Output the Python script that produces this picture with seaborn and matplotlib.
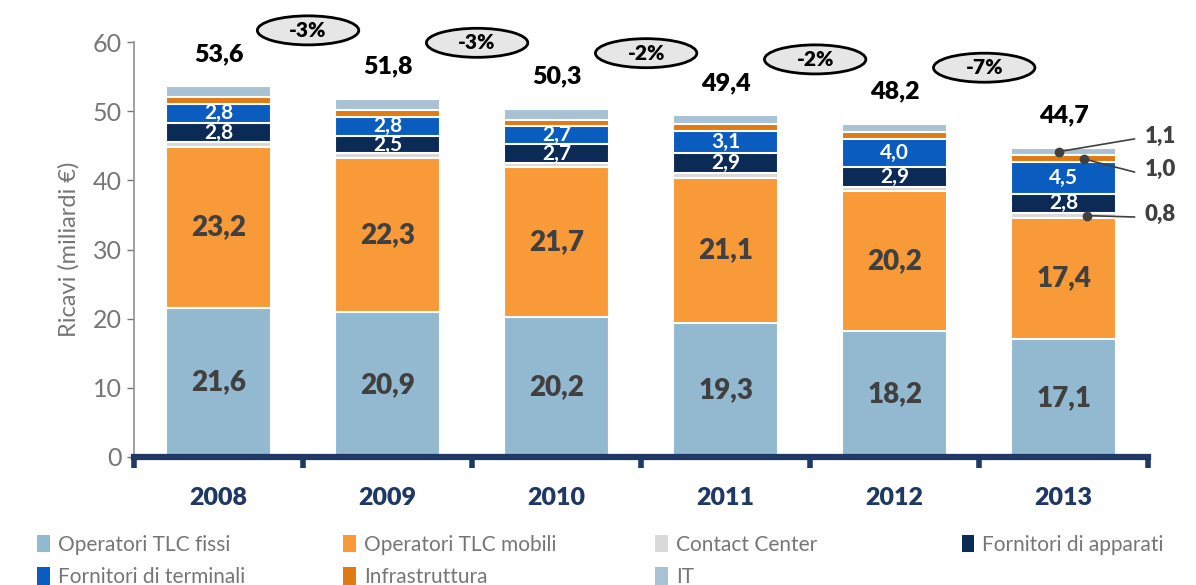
import numpy as np
import pandas as pd
import matplotlib
matplotlib.use('Agg')
import matplotlib.pyplot as plt
import seaborn as sns
from matplotlib.patches import Patch, Ellipse

years = ['2008', '2009', '2010', '2011', '2012', '2013']
tlc_fissi = [21.6, 20.9, 20.2, 19.3, 18.2, 17.1]
tlc_mobili = [23.2, 22.3, 21.7, 21.1, 20.2, 17.4]
contact_center = [0.7, 0.7, 0.6, 0.7, 0.7, 0.8]
forn_apparati = [2.8, 2.5, 2.7, 2.9, 2.9, 2.8]
forn_terminali = [2.8, 2.8, 2.7, 3.1, 4.0, 4.5]
infrastruttura = [1.0, 1.0, 0.9, 1.0, 1.0, 1.0]
it = [1.5, 1.6, 1.5, 1.3, 1.2, 1.1]
totali = [53.6, 51.8, 50.3, 49.4, 48.2, 44.7]

series_names = ['Operatori TLC fissi', 'Operatori TLC mobili', 'Contact Center',
                'Fornitori di apparati', 'Fornitori di terminali', 'Infrastruttura', 'IT']
series_vals = [tlc_fissi, tlc_mobili, contact_center, forn_apparati,
               forn_terminali, infrastruttura, it]
colors = ['#93b9d1', '#f99a38', '#d9d9d9', '#0b2a55', '#0a5cbf', '#e07a12', '#a9c2d3']

NAVY = '#1f3864'
GREY = '#767676'
DARK = '#404040'
FONT = ['Lato', 'DejaVu Sans']

sns.set_style('white')
plt.rcParams['font.family'] = FONT

fig = plt.figure(figsize=(11.96, 5.85), dpi=100)
ax = fig.add_axes([0.112, 0.219, 0.848, 0.709])

df = pd.DataFrame(dict(zip(series_names, series_vals)), index=years)
cum = df.cumsum(axis=1)

# stacked bars: draw cumulative totals top-down so lower layers cover upper ones
for name, col in reversed(list(zip(series_names, colors))):
    sns.barplot(x=years, y=cum[name].values, color=col, width=0.62,
                edgecolor='white', linewidth=1.5, ax=ax, saturation=1)

# segment labels
for i, yr in enumerate(years):
    base = 0
    for name, vals in zip(series_names, series_vals):
        v = vals[i]
        mid = base + v / 2
        label = f'{v:.1f}'.replace('.', ',')
        if name in ('Operatori TLC fissi', 'Operatori TLC mobili'):
            ax.text(i, mid, label, ha='center', va='center', fontsize=20,
                    fontweight='heavy', color=DARK)
        elif name in ('Fornitori di apparati', 'Fornitori di terminali'):
            ax.text(i, mid, label, ha='center', va='center', fontsize=15,
                    fontweight='bold', color='white')
        base += v
    ax.text(i, totali[i] + 4.7, f'{totali[i]:.1f}'.replace('.', ','), ha='center',
            va='center', fontsize=18, fontweight='heavy', color='black', clip_on=False)

# growth ovals between bars
for i in range(len(years) - 1):
    pct = round((totali[i + 1] / totali[i] - 1) * 100)
    yc = totali[i] + 8.1
    ax.add_patch(Ellipse((i + 0.53, yc), 0.6, 4.2, facecolor='#e6e6e6',
                         edgecolor='black', linewidth=2, clip_on=False))
    ax.text(i + 0.53, yc, f'{pct}%', ha='center', va='center', fontsize=15,
            fontweight='heavy', color='black', clip_on=False)

# callouts for small 2013 segments
last = len(years) - 1
c13 = cum.iloc[last]
callouts = [
    ('IT', c13['IT'] - it[last] / 2, -0.03, 46.0),
    ('Infrastruttura', c13['Infrastruttura'] - infrastruttura[last] / 2, 0.12, 41.2),
    ('Contact Center', c13['Contact Center'] - contact_center[last] / 2, 0.14, 34.7),
]
for name, yv, dx, ylab in callouts:
    v = df.loc[years[last], name]
    ax.plot([last + dx], [yv], 'o', color=DARK, markersize=6, clip_on=False)
    ax.plot([last + dx, last + 0.42], [yv, ylab], color=DARK, lw=1.2, clip_on=False)
    ax.text(last + 0.48, ylab + 0.4, f'{v:.1f}'.replace('.', ','), ha='left', va='center',
            fontsize=16, fontweight='heavy', color=DARK, clip_on=False)

ax.set_ylim(0, 60)
ax.set_xlim(-0.5, 5.5)
ax.set_yticks(range(0, 61, 10))
ax.tick_params(axis='y', labelsize=18, colors=GREY, length=5, width=1, direction='out', left=True)
ax.set_xticks(range(len(years)))
ax.set_xticklabels(years, fontsize=18, fontweight='heavy', color=NAVY)
ax.tick_params(axis='x', length=0, pad=22)
ax.set_xticks(np.arange(-0.5, 6, 1), minor=True)
ax.tick_params(axis='x', which='minor', bottom=True, length=8, width=4, color=NAVY,
               direction='out')
ax.set_ylabel('Ricavi (miliardi €)', fontsize=17, color=GREY, labelpad=10)

for s in ['top', 'right']:
    ax.spines[s].set_visible(False)
ax.spines['left'].set_color('#909090')
ax.spines['left'].set_linewidth(1.2)
ax.spines['bottom'].set_color(NAVY)
ax.spines['bottom'].set_linewidth(4.5)

# legend: 4 fixed-width columns, filled row by row
col_x = [0.031, 0.287, 0.548, 0.804]
for c, x0 in enumerate(col_x):
    idx = [k for k in range(len(series_names)) if k % 4 == c]
    handles = [Patch(facecolor=colors[k], edgecolor='none') for k in idx]
    labels = [series_names[k] for k in idx]
    leg = fig.legend(handles, labels, loc='upper left', bbox_to_anchor=(x0, 0.086),
                     frameon=False, fontsize=15, handlelength=0.6, handleheight=0.9,
                     handletextpad=0.4, labelspacing=0.6, borderpad=0, borderaxespad=0)
    for t in leg.get_texts():
        t.set_color(GREY)

fig.savefig('out.png', dpi=100, facecolor='white')
